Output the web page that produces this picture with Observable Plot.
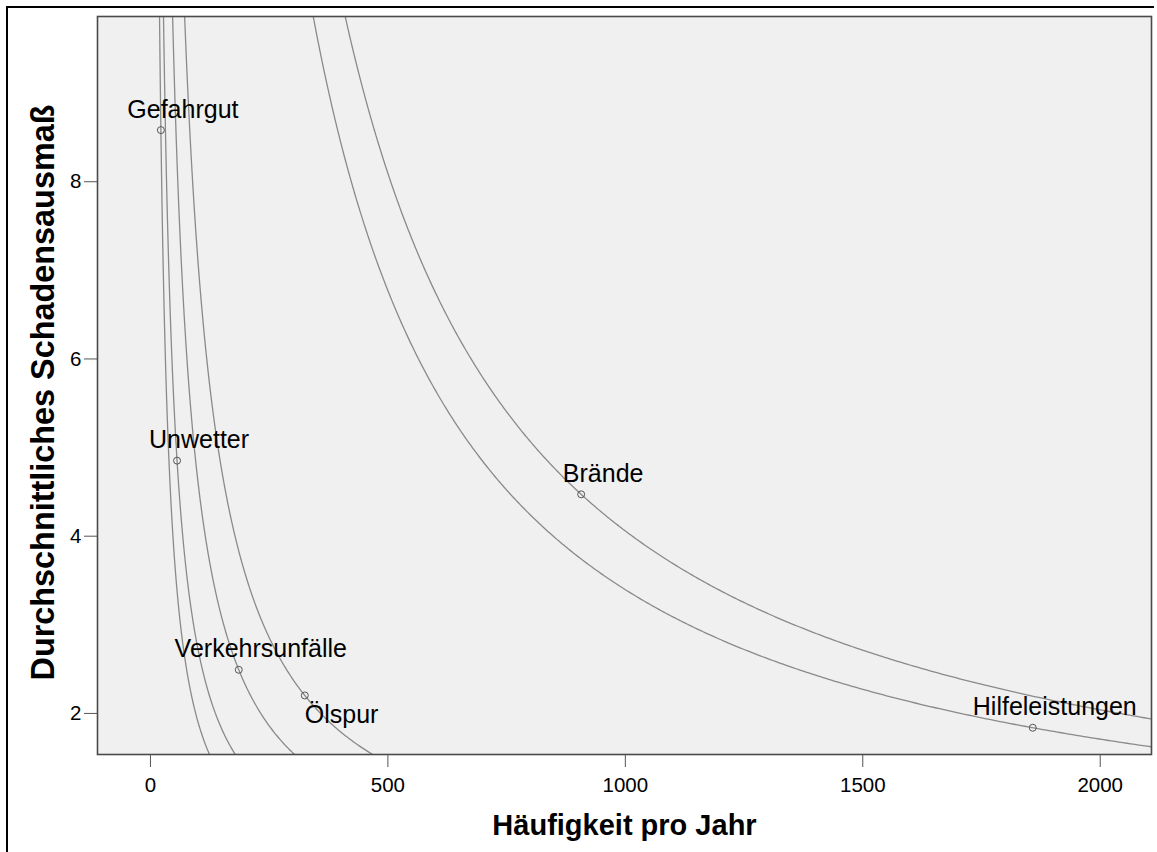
<!DOCTYPE html>
<html>
<head>
<meta charset="utf-8">
<script src="https://cdn.jsdelivr.net/npm/d3@7"></script>
<script src="https://cdn.jsdelivr.net/npm/@observablehq/plot@0.6"></script>
<style>
  html, body { margin: 0; padding: 0; background: #fff; overflow: hidden; }
  #wrap { position: relative; width: 1157px; height: 852px; }
  #outer { position: absolute; left: 6px; top: 6px; width: 1146px; height: 900px;
           border-top: 2px solid #000; border-left: 2px solid #000; pointer-events: none; }
</style>
</head>
<body>
<div id="wrap"><div id="chart"></div><div id="outer"></div></div>
<script>
// Data
const names = ["Gefahrgut", "Unwetter", "Verkehrsunfälle", "Ölspur", "Brände", "Hilfeleistungen"];
const frequency = [22, 56, 186, 325, 907, 1858];          // Häufigkeit pro Jahr
const severity = [8.56, 4.83, 2.47, 2.18, 4.45, 1.816];   // Durchschnittliches Schadensausmaß
const xTicks = [0, 500, 1000, 1500, 2000];
const yTicks = [2, 4, 6, 8];
const xTitle = "Häufigkeit pro Jahr";
const yTitle = "Durchschnittliches Schadensausmaß";

const xDomain = [-111.5, 2108];
const yDomain = [1.514, 9.842];

const points = names.map((name, i) => ({name, x: frequency[i], y: severity[i]}));

// Iso-risk curves (frequency × severity = const) through each point
const curves = [];
for (const p of points) {
  const k = p.x * p.y;
  const x0 = k / (yDomain[1] * 1.2);
  const x1 = xDomain[1] * 1.05;
  for (let t = 0; t <= 1.00001; t += 0.002) {
    const x = x0 * Math.pow(x1 / x0, t);
    curves.push({name: p.name, x, y: k / x});
  }
}

const FONT = "'Liberation Sans', Arial, Helvetica, sans-serif";

const chart = Plot.plot({
  width: 1157,
  height: 852,
  marginLeft: 97,
  marginRight: 6,
  marginTop: 16,
  marginBottom: 98,
  style: {fontFamily: FONT, fontSize: "20px", color: "#000", background: "transparent", overflow: "visible"},
  x: {domain: xDomain},
  y: {domain: yDomain},
  marks: [
    Plot.frame({fill: "#f0f0f0", stroke: "none"}),
    Plot.line(curves, {x: "x", y: "y", z: "name", stroke: "#8a8a8a", strokeWidth: 1.3, clip: true, curve: "linear"}),
    Plot.dot(points, {x: "x", y: "y", r: 3.5, stroke: "#555", strokeWidth: 1, fill: "none"}),
    Plot.text(points.filter(d => d.name !== "Ölspur"), {x: "x", y: "y", text: "name", dx: 22, dy: -12.5, lineAnchor: "bottom", textAnchor: "middle", fontSize: 25, fill: "#000"}),
    Plot.text(points.filter(d => d.name === "Ölspur"), {x: "x", y: "y", text: "name", dx: 0, dy: 28, lineAnchor: "bottom", textAnchor: "start", fontSize: 25, fill: "#000"}),
    Plot.frame({stroke: "#4a4a4a", strokeWidth: 1.6}),
    Plot.axisX(xTicks, {tickSize: 13, tickPadding: 10, stroke: "#555", label: null, fontSize: 20.5, tickFormat: d => String(d)}),
    Plot.axisY(yTicks, {tickSize: 13, tickPadding: 3, stroke: "#555", label: null, fontSize: 20.5, dy: 2, tickFormat: d => String(d)}),
    Plot.text([xTitle], {frameAnchor: "bottom", dy: 80, lineAnchor: "bottom", textAnchor: "middle", fontSize: 29, fontWeight: "bold", fill: "#000"}),
    Plot.text([yTitle], {frameAnchor: "left", dx: -67, dy: 7, rotate: -90, lineAnchor: "top", textAnchor: "middle", fontSize: 32.4, fontWeight: "bold", fill: "#000"})
  ]
});
document.getElementById("chart").appendChild(chart);
</script>
</body>
</html>
